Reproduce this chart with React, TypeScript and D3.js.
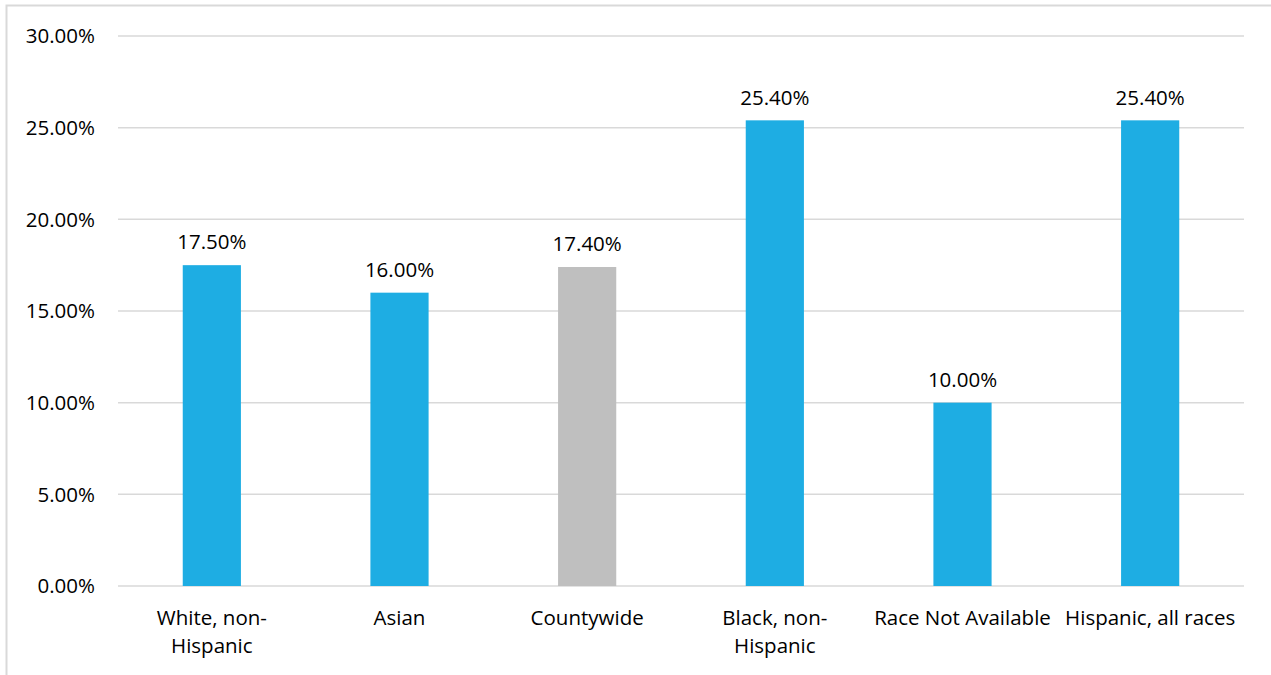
import React from "react";
import * as d3 from "d3";

const categories = [
  ["White, non-", "Hispanic"],
  ["Asian"],
  ["Countywide"],
  ["Black, non-", "Hispanic"],
  ["Race Not Available"],
  ["Hispanic, all races"],
];
const values = [17.5, 16.0, 17.4, 25.4, 10.0, 25.4];
const barColors = ["#1EADE3", "#1EADE3", "#BFBFBF", "#1EADE3", "#1EADE3", "#1EADE3"];
const yTicks = [0, 5, 10, 15, 20, 25, 30];

const W = 1271;
const H = 675;
const left = 118;
const right = 1244;
const top = 36;
const bottom = 586;
const font = "'Open Sans', sans-serif";
const fs = 20.5;

export default function App() {
  const x = d3
    .scaleBand<number>()
    .domain(values.map((_, i) => i))
    .range([left, right])
    .paddingInner(0.69)
    .paddingOuter(0.345);
  const y = d3.scaleLinear().domain([0, 30]).range([bottom, top]);
  const fmt = (v: number) => v.toFixed(2) + "%";

  return (
    <div style={{ position: "absolute", left: 0, top: 0 }}>
      <svg width={W} height={H} style={{ display: "block", background: "#fff" }}>
        <rect x={6.5} y={5.5} width={W + 10} height={H + 10} fill="#fff" stroke="#D9D9D9" strokeWidth={2} />
        {yTicks.map((t) => (
          <g key={t}>
            <line x1={left} x2={right} y1={y(t)} y2={y(t)} stroke="#D9D9D9" strokeWidth={1.5} />
            <text
              x={95}
              y={y(t)}
              dy="0.35em"
              textAnchor="end"
              fontFamily={font}
              fontSize={fs}
              fill="#000"
            >
              {fmt(t)}
            </text>
          </g>
        ))}
        {values.map((v, i) => (
          <g key={i}>
            <rect
              x={x(i)}
              y={y(v)}
              width={x.bandwidth()}
              height={y(0) - y(v)}
              fill={barColors[i]}
            />
            <text
              x={(x(i) as number) + x.bandwidth() / 2}
              y={y(v) - 23}
              dy="0.35em"
              textAnchor="middle"
              fontFamily={font}
              fontSize={fs}
              fill="#000"
            >
              {fmt(v)}
            </text>
            <text
              x={(x(i) as number) + x.bandwidth() / 2}
              y={618}
              textAnchor="middle"
              fontFamily={font}
              fontSize={fs}
              fill="#000"
            >
              {categories[i].map((line, j) => (
                <tspan key={j} x={(x(i) as number) + x.bandwidth() / 2} dy={j === 0 ? "0.35em" : 28}>
                  {line}
                </tspan>
              ))}
            </text>
          </g>
        ))}
      </svg>
    </div>
  );
}
